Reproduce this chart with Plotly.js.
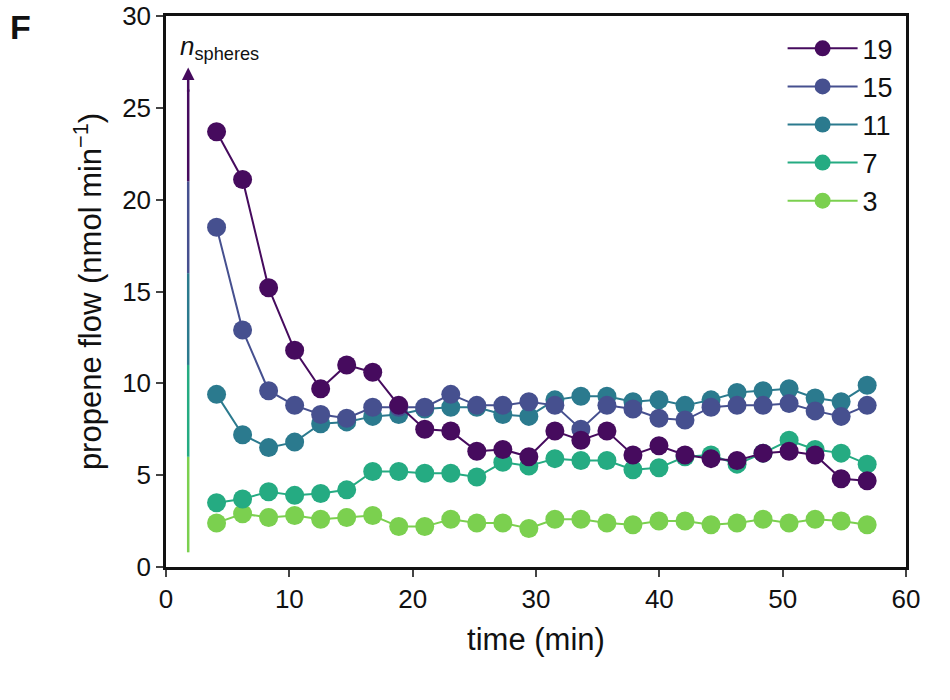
<!DOCTYPE html>
<html>
<head>
<script src="https://cdn.plot.ly/plotly-3.0.1.min.js"></script>
</head>
<body style="margin:0">
<div id="chart" style="width:950px;height:700px"></div>
<script>
// sampling times (min)
var t0 = 4.1, dt = 2.11;
var times = [];
for (var i = 0; i < 26; i++) times.push(+(t0 + i*dt).toFixed(2));

var labels = ["19", "15", "11", "7", "3"];
var colors = ["#460b5e", "#46508f", "#2b7a8e", "#25ab82", "#7bd04f"];
var flow19 = [23.7, 21.1, 15.2, 11.8, 9.7, 11.0, 10.6, 8.8, 7.5, 7.4, 6.3, 6.4, 6.0, 7.4, 6.9, 7.4, 6.1, 6.6, 6.1, 5.9, 5.8, 6.2, 6.3, 6.1, 4.8, 4.7];
var flow15 = [18.5, 12.9, 9.6, 8.8, 8.3, 8.1, 8.7, 8.7, 8.7, 9.4, 8.8, 8.8, 9.0, 8.8, 7.5, 8.8, 8.6, 8.1, 8.0, 8.7, 8.8, 8.8, 8.9, 8.5, 8.2, 8.8];
var flow11 = [9.4, 7.2, 6.5, 6.8, 7.8, 7.9, 8.2, 8.3, 8.6, 8.7, 8.7, 8.3, 8.2, 9.1, 9.3, 9.3, 9.0, 9.1, 8.8, 9.1, 9.5, 9.6, 9.7, 9.2, 9.0, 9.9];
var flow7 = [3.5, 3.7, 4.1, 3.9, 4.0, 4.2, 5.2, 5.2, 5.1, 5.1, 4.9, 5.7, 5.5, 5.9, 5.8, 5.8, 5.3, 5.4, 6.0, 6.1, 5.6, 6.2, 6.9, 6.4, 6.2, 5.6];
var flow3 = [2.4, 2.9, 2.7, 2.8, 2.6, 2.7, 2.8, 2.2, 2.2, 2.6, 2.4, 2.4, 2.1, 2.6, 2.6, 2.4, 2.3, 2.5, 2.5, 2.3, 2.4, 2.6, 2.4, 2.6, 2.5, 2.3];
var flows = [flow19, flow15, flow11, flow7, flow3];

// draw low n first so high n sits on top
var data = [];
for (var k = flows.length - 1; k >= 0; k--) {
	data.push({
		x: times, y: flows[k], name: labels[k], type: "scatter", mode: "lines+markers",
		line: {color: colors[k], width: 2},
		marker: {color: colors[k], size: 19}
	});
}

// gradient arrow as stacked segments
var shapes = [];
var arrowStops = [0.8, 6, 11, 16, 21, 26];
for (var s = 0; s < 5; s++) {
	shapes.push({type: "line", xref: "x", yref: "y", x0: 1.8, x1: 1.8,
		y0: arrowStops[s], y1: arrowStops[s+1],
		line: {color: colors[4 - s], width: 2.5}});
}

var layout = {
	width: 950, height: 700,
	margin: {l: 166, r: 44, t: 16, b: 133},
	font: {family: "Liberation Sans, Arial, sans-serif", size: 26, color: "#111"},
	showlegend: true,
	legend: {x: 0.99, y: 0.985, xanchor: "right", yanchor: "top", traceorder: "reversed",
		bgcolor: "rgba(0,0,0,0)", font: {size: 27}, itemwidth: 70, tracegroupgap: 0},
	xaxis: {range: [0, 60], dtick: 10, ticks: "outside", ticklen: 7, tickwidth: 2,
		showline: true, linewidth: 2.5, linecolor: "#111", mirror: true, showgrid: false, zeroline: false,
		title: {text: "time (min)", standoff: 16}},
	yaxis: {range: [0, 30], dtick: 5, ticks: "outside", ticklen: 7, tickwidth: 2,
		showline: true, linewidth: 2.5, linecolor: "#111", mirror: true, showgrid: false, zeroline: false,
		title: {text: "propene flow (nmol min<sup>−1</sup>)", standoff: 12}},
	shapes: shapes,
	annotations: [
		{x: 1.8, y: 27.2, ax: 1.8, ay: 25.8, xref: "x", yref: "y", axref: "x", ayref: "y",
			text: "", showarrow: true, arrowhead: 2, arrowsize: 1, arrowwidth: 2.5, arrowcolor: colors[0]},
		{x: 1.0, y: 28.3, xref: "x", yref: "y", xanchor: "left", yanchor: "middle", showarrow: false,
			text: "<i>n</i><sub>spheres</sub>", font: {size: 26}},
		{x: 0, y: 1, xref: "paper", yref: "paper", xshift: -158, yshift: 10, xanchor: "left", yanchor: "top",
			showarrow: false, text: "<b>F</b>", font: {size: 34}}
	]
};
Plotly.newPlot("chart", data, layout, {displayModeBar: false});
</script>
</body>
</html>
